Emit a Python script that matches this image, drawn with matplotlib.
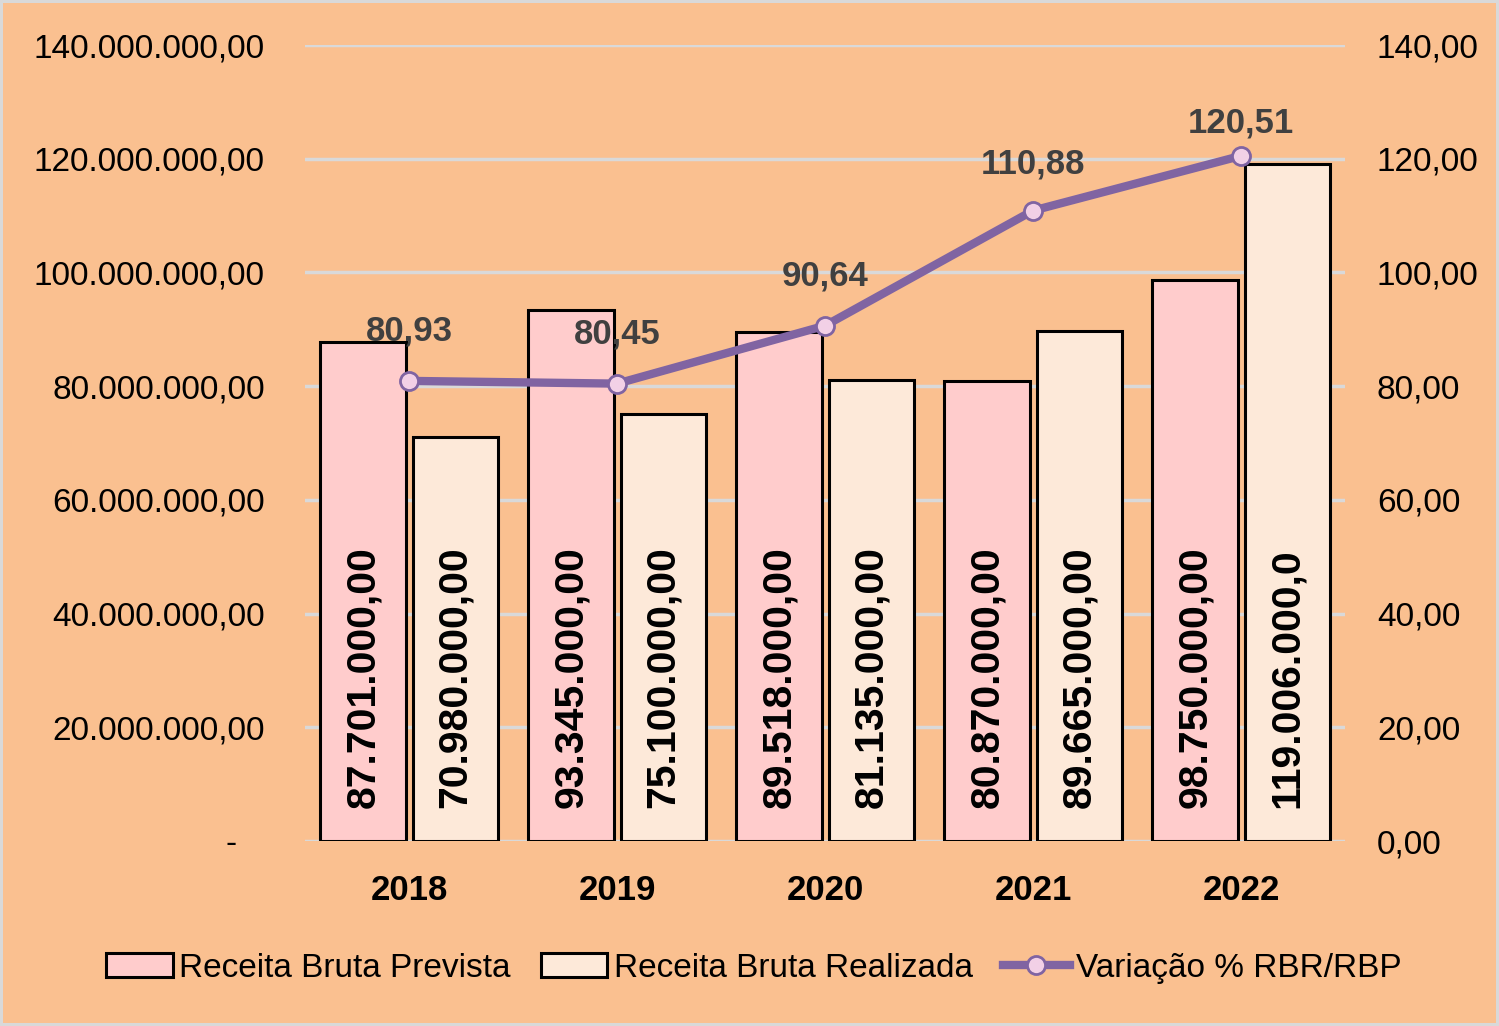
import numpy as np
import matplotlib
matplotlib.use("Agg")
import matplotlib.pyplot as plt
from matplotlib.ticker import FuncFormatter

plt.rcParams["font.family"] = ["Liberation Sans", "DejaVu Sans"]

anos = ["2018", "2019", "2020", "2021", "2022"]
prevista = [87701000, 93345000, 89518000, 80870000, 98750000]
realizada = [70980000, 75100000, 81135000, 89665000, 119006000]
variacao = [80.93, 80.45, 90.64, 110.88, 120.51]


def br(v, casas=2):
    s = f"{v:,.{casas}f}"
    return s.replace(",", "X").replace(".", ",").replace("X", ".")


fundo = "#FAC090"
rosa = "#FFCCCC"
creme = "#FDE9D9"
roxo = "#8064A2"
grade = "#D9D9D9"

fig = plt.figure(figsize=(14.99, 10.26), dpi=100, facecolor=fundo,
                 edgecolor=grade, linewidth=3)
ax = fig.add_axes([0.2035, 0.1803, 0.6938, 0.7758])
ax.set_facecolor(fundo)

x = np.arange(len(anos))
w = 0.41
off = 0.222
b1 = ax.bar(x - off, prevista, w, color=rosa, edgecolor="black", linewidth=2.2,
            label="Receita Bruta Prevista", zorder=2)
b2 = ax.bar(x + off, realizada, w, color=creme, edgecolor="black", linewidth=2.2,
            label="Receita Bruta Realizada", zorder=2)

# rótulos dentro das barras
for xi, v in zip(x - off, prevista):
    ax.annotate(br(v), (xi, 0), xytext=(0, 24), textcoords="offset points",
                rotation=90, ha="center", va="bottom", fontsize=29.5,
                fontweight="bold", color="black", zorder=3)
for xi, v in zip(x + off, realizada):
    txt = br(v)
    if len(txt) > 13:
        txt = txt[:13]  # cortado como no original
    ax.annotate(txt, (xi, 0), xytext=(0, 24), textcoords="offset points",
                rotation=90, ha="center", va="bottom", fontsize=29.5,
                fontweight="bold", color="black", zorder=3)

ax.set_xlim(-0.5, len(anos) - 0.5)
ax.set_ylim(0, 140000000)
ax.set_yticks(np.arange(0, 140000001, 20000000))
ax.yaxis.set_major_formatter(FuncFormatter(lambda v, p: "-   " if v == 0 else br(v)))
ax.set_xticks(x)
ax.set_xticklabels(anos, fontsize=25, fontweight="bold")
ax.tick_params(axis="y", length=0, pad=29, labelsize=24)
ax.tick_params(axis="x", length=0, pad=24)
ax.grid(axis="y", color=grade, linewidth=2.5)
ax.set_axisbelow(True)
for s in ax.spines.values():
    s.set_visible(False)

ax2 = ax.twinx()
ln, = ax2.plot(x, variacao, color=roxo, linewidth=6, marker="o", markersize=13,
               markerfacecolor="#F2D0E6", markeredgecolor=roxo, markeredgewidth=2,
               label="Variação % RBR/RBP", zorder=5)
ax2.set_ylim(0, 140)
ax2.set_yticks(np.arange(0, 141, 20))
ax2.yaxis.set_major_formatter(FuncFormatter(lambda v, p: br(v)))
ax2.tick_params(axis="y", length=0, pad=23, labelsize=24)
for s in ax2.spines.values():
    s.set_visible(False)

desloc = [24, 24, 24, 22, 12]
for xi, v, d in zip(x, variacao, desloc):
    ax2.annotate(br(v), (xi, v), xytext=(0, d), textcoords="offset points",
                 ha="center", va="bottom", fontsize=25, fontweight="bold",
                 color="#404040", zorder=6)

fig.legend(handles=[b1, b2, ln], loc="center", bbox_to_anchor=(0.503, 0.0565),
           ncol=3, frameon=False, fontsize=24, handlelength=2.0,
           handletextpad=0.2, columnspacing=0.9)

fig.savefig("out.png", dpi=100, facecolor=fundo)
